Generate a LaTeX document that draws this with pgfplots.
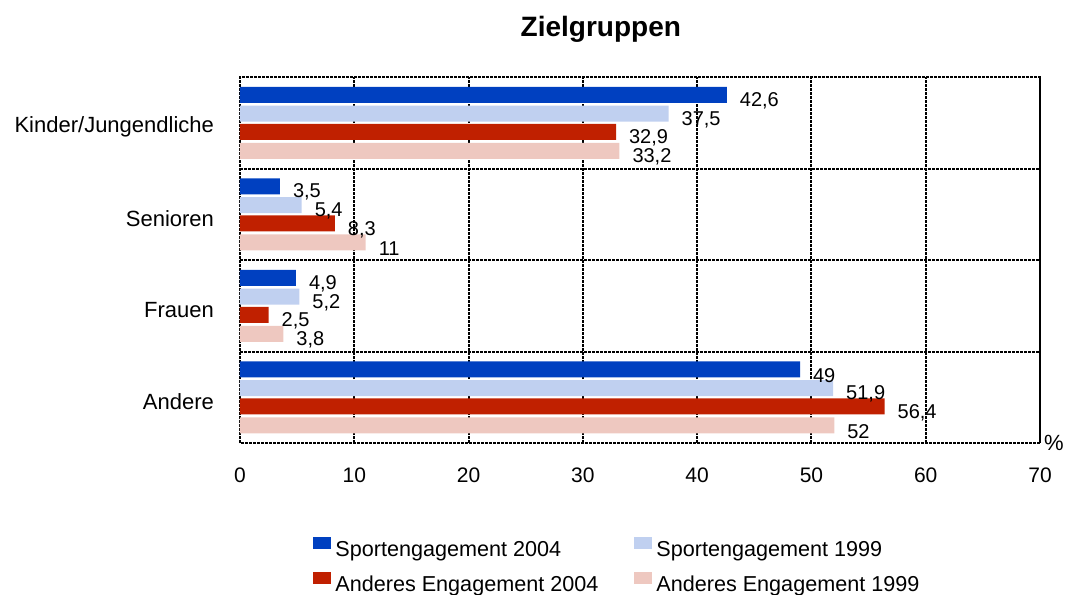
\documentclass[border=0pt]{standalone}
\usepackage{fontspec}
\setmainfont{Liberation Sans}
\usepackage{pgfplots}
\pgfplotsset{compat=1.18}
\definecolor{cBlue}{RGB}{0,64,192}
\definecolor{cLBlue}{RGB}{192,208,240}
\definecolor{cRed}{RGB}{192,32,0}
\definecolor{cPink}{RGB}{238,200,192}
\begin{document}
\begin{tikzpicture}
\useasboundingbox (-120pt,-75.5pt) rectangle (414pt,221.5pt);
\begin{axis}[
  at={(0,0)}, anchor=south west,
  scale only axis, width=400pt, height=183pt,
  xbar, bar width=8pt,
  xmin=0, xmax=70, ymin=-0.5, ymax=3.5,
  xtick={0,10,...,70},
  ytick={0,1,2,3},
  yticklabels={Andere,Frauen,Senioren,Kinder/Jungendliche},
  extra y ticks={0.5,1.5,2.5}, extra y tick labels={},
  extra y tick style={grid=major},
  xmajorgrids=true,
  major tick length=0pt,
  grid style={black, line width=1pt, dash pattern=on 1.5pt off 0.5pt},
  axis line style={black, line width=1pt, dash pattern=on 1.5pt off 0.5pt},
  /pgf/number format/.cd, use comma, fixed, precision=1, assume math mode=true, 1000 sep={},
  /pgfplots/.cd,
  xticklabel style={font=\fontsize{10.5}{12}\selectfont, yshift=-9pt},
  yticklabel style={font=\fontsize{11}{13}\selectfont, xshift=-9.5pt, yshift=-2pt},
  xlabel={\%},
  xlabel style={at={(1,0)}, anchor=center, xshift=7pt, font=\fontsize{11}{13}\selectfont},
  title={Zielgruppen},
  title style={at={(0.451,1)}, anchor=base, yshift=14.2pt, font=\bfseries\fontsize{14}{16}\selectfont},
  nodes near coords,
  point meta=x,
  every node near coord/.append style={anchor=west, xshift=3pt, yshift=-3pt, font=\fontsize{10}{12}\selectfont, black},
  legend columns=2,
  legend style={at={(0.09,0)}, anchor=north west, xshift=-2.5pt, yshift=-45pt, draw=none, fill=none,
    font=\fontsize{10.8}{13}\selectfont,
    /tikz/every even column/.append style={column sep=16pt},
    row sep=4pt, cells={anchor=west}},
  legend image code/.code={\fill[#1] (0pt,0.7pt) rectangle (9pt,6.7pt);},
]
\addplot[fill=cBlue, draw=none, bar shift=14pt] coordinates {(42.6,3) (3.5,2) (4.9,1) (49,0)};
\addlegendentry{Sportengagement 2004}
\addplot[fill=cLBlue, draw=none, bar shift=4.6pt] coordinates {(37.5,3) (5.4,2) (5.2,1) (51.9,0)};
\addlegendentry{Sportengagement 1999}
\addplot[fill=cRed, draw=none, bar shift=-4.6pt] coordinates {(32.9,3) (8.3,2) (2.5,1) (56.4,0)};
\addlegendentry{Anderes Engagement 2004}
\addplot[fill=cPink, draw=none, bar shift=-14pt] coordinates {(33.2,3) (11,2) (3.8,1) (52,0)};
\addlegendentry{Anderes Engagement 1999}
\end{axis}
\end{tikzpicture}
\end{document}
